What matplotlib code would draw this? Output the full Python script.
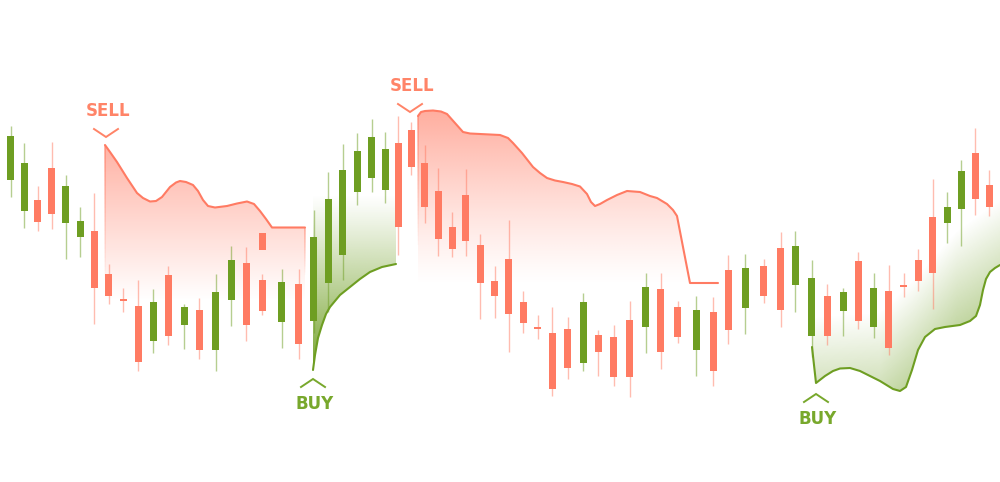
import matplotlib
matplotlib.use("Agg")
import matplotlib.pyplot as plt
import numpy as np
from matplotlib.patches import Polygon
from matplotlib.collections import LineCollection
from matplotlib.colors import to_rgb

# --- candles: x position on the 1000 px canvas, OHLC in price units ---
cx = [10.7, 24, 37.7, 51.7, 65.7, 80, 94.3, 108.7, 123.3, 138, 153, 168.3,
      184, 199.3, 215.7, 231.3, 246.3, 262, 262, 281.7, 298.7, 313.7, 328,
      342.7, 357.3, 371.7, 385.3, 398, 411.3, 424.5, 438.3, 452.3, 465.7,
      480.3, 494.7, 508.7, 523, 537.7, 552.3, 567.7, 583, 598.3, 613.7,
      629.7, 645.7, 660.7, 677.7, 696, 713, 728.3, 745.3, 763.7, 780.7,
      795.3, 811.7, 827.3, 843, 858.3, 873.7, 888.7, 903.7, 918.3, 932.7,
      947, 961.3, 975.3, 989.3]
opens = [302, 271, 282, 314, 259, 245, 251, 208, 183, 176, 141, 207,
         157, 172, 132, 182, 219, 249, 202, 160, 198, 161, 199,
         227, 290, 304, 292, 339, 352, 319, 291, 255, 287,
         237, 201, 223, 180, 155, 149, 153, 119, 147, 145,
         162, 155, 193, 175, 132, 170, 212, 174, 216, 234,
         197, 146, 186, 171, 221, 155, 191, 197, 222, 265,
         259, 273, 329, 297]
highs = [356, 339, 296, 340, 307, 275, 289, 218, 194, 202, 193, 216,
         178, 184, 208, 236, 235, 249, 208, 213, 213, 272, 310,
         338, 349, 363, 350, 366, 360, 337, 314, 270, 313,
         248, 216, 262, 191, 167, 175, 165, 189, 152, 157,
         181, 209, 209, 181, 186, 185, 227, 228, 223, 250,
         251, 222, 198, 194, 230, 209, 217, 209, 233, 303,
         290, 322, 354, 312]
lows = [285, 254, 251, 253, 223, 225, 158, 178, 170, 111, 129, 137,
        133, 123, 111, 156, 141, 232, 167, 134, 123, 149, 170,
        202, 277, 290, 279, 227, 307, 259, 226, 225, 226,
        163, 164, 130, 149, 143, 86, 103, 111, 106, 96,
        85, 129, 113, 139, 106, 96, 138, 148, 179, 155,
        170, 125, 137, 146, 153, 144, 127, 185, 191, 173,
        239, 236, 267, 266]
closes = [346, 319, 260, 268, 296, 261, 194, 186, 181, 120, 180, 146,
          175, 132, 190, 222, 157, 232, 171, 200, 138, 245, 283,
          312, 331, 345, 333, 255, 315, 275, 243, 233, 241,
          199, 186, 168, 159, 153, 93, 114, 180, 130, 105,
          105, 195, 130, 145, 172, 111, 152, 214, 186, 172,
          236, 204, 146, 190, 161, 194, 134, 195, 201, 209,
          275, 311, 283, 275]

# --- SELL zones (upper envelope) ---
sell1_x = [105, 110, 117, 127, 137, 143, 150, 156, 162, 170, 176, 180, 186,
           193, 198, 203, 208, 215, 227, 237, 247, 254, 260, 266, 272, 305]
sell1_p = [337, 330, 320, 304, 289, 284, 280.5, 281, 285, 295, 299.5, 301,
           300, 297, 291, 282, 276, 274.5, 276, 278.5, 280.5, 278, 271, 263,
           254.5, 254.5]
sell2_x = [418, 421, 425, 433, 441, 447, 455, 463, 470, 480, 500, 508, 513,
           522, 533, 540, 547, 555, 563, 572, 580, 587, 591, 595, 600, 607,
           617, 627, 640, 650, 657, 667, 673, 677, 683, 690, 718]
sell2_p = [366, 370, 371, 371.5, 370.5, 368, 359, 350, 348.5, 348, 347, 344,
           339, 329, 315, 309, 304, 301.5, 300, 298, 295.5, 288, 280, 276,
           278, 282, 287, 291, 290, 286, 284, 278, 272, 266, 235, 199, 199]

# --- BUY zones (lower envelope) ---
buy1_x = [313, 315, 318, 322, 326, 330, 340, 350, 360, 370, 382, 396]
buy1_p = [112, 127, 144, 157, 168, 175, 187, 195, 203, 210, 215, 218]
buy2_x = [812, 816, 825, 833, 840, 850, 860, 870, 880, 893, 900, 906, 912,
          918, 925, 935, 945, 960, 970, 976, 980, 983, 986, 990, 995, 1000]
buy2_p = [135, 99, 106, 111, 113.5, 114, 111, 106, 101, 93, 91, 95, 112,
          132, 145, 153, 155, 157, 161, 166, 177, 192, 203, 210, 214, 217]
buy2_top_x = [812, 880, 913, 957, 1000]
buy2_top_p = [165, 170, 202, 252, 282]

# --- signal markers ---
signal_labels = ["SELL", "BUY", "SELL", "BUY"]
signal_x = [106, 313, 410, 816]
signal_p = [345, 103, 370, 88]

RED = "#FF7B63"
GREEN = "#6E9E22"
RED_TXT = "#FF8468"
GREEN_TXT = "#78A82C"


def gradient_fill(ax, px, py, color, alpha_fn, zorder=1):
    poly = Polygon(np.column_stack([px, py]), closed=True,
                   facecolor="none", edgecolor="none")
    ax.add_patch(poly)
    x0, x1 = min(px), max(px)
    y0, y1 = min(py), max(py)
    gx, gy = np.meshgrid(np.linspace(x0, x1, 400), np.linspace(y0, y1, 400))
    img = np.zeros(gx.shape + (4,))
    img[..., :3] = to_rgb(color)
    img[..., 3] = np.clip(alpha_fn(gx, gy), 0, 1)
    im = ax.imshow(img, extent=[x0, x1, y0, y1], origin="lower",
                   aspect="auto", zorder=zorder, interpolation="bilinear")
    im.set_clip_path(poly)


def fading_edge(ax, xv, p_top, p_bot, color, a0=0.7, n=30):
    ys = np.linspace(p_top, p_bot, n + 1)
    segs = [[(xv, ys[i]), (xv, ys[i + 1])] for i in range(n)]
    cols = [(*to_rgb(color), a0 * (1 - i / n)) for i in range(n)]
    ax.add_collection(LineCollection(segs, colors=cols, linewidths=1.1, zorder=2))


fig = plt.figure(figsize=(10, 4.82), dpi=100)
ax = fig.add_axes([0, 0, 1, 1])
ax.axis("off")

# sell zone 1
floor1 = 182
top1 = max(sell1_p)
gradient_fill(ax, sell1_x + [sell1_x[-1], sell1_x[0]], sell1_p + [floor1, floor1],
              RED, lambda gx, gy: 0.58 * (gy - floor1) / (top1 - floor1))
ax.plot(sell1_x, sell1_p, color=RED, lw=1.5, zorder=2,
        solid_capstyle="round", solid_joinstyle="round")
fading_edge(ax, sell1_x[0], sell1_p[0], floor1 + 20, RED)
fading_edge(ax, sell1_x[-1], sell1_p[-1], floor1 + 25, RED, a0=0.6)

# sell zone 2
floor2 = 197
top2 = max(sell2_p)
gradient_fill(ax, sell2_x + [sell2_x[-1], sell2_x[0]], sell2_p + [floor2, floor2],
              RED, lambda gx, gy: 0.62 * ((gy - floor2) / (top2 - floor2)) ** 1.2)
ax.plot(sell2_x, sell2_p, color=RED, lw=1.5, zorder=2,
        solid_capstyle="round", solid_joinstyle="round")
fading_edge(ax, sell2_x[0], sell2_p[0], floor2 + 40, RED)

# buy zone 1
ceil1 = 287
bot1 = min(buy1_p)
gradient_fill(ax, buy1_x + [buy1_x[-1], buy1_x[0]], buy1_p + [ceil1, ceil1],
              GREEN, lambda gx, gy: 0.95 * ((ceil1 - gy) / (ceil1 - bot1)) ** 1.1)
ax.plot(buy1_x, buy1_p, color=GREEN, lw=1.5, zorder=2,
        solid_capstyle="round", solid_joinstyle="round")

# buy zone 2
gradient_fill(ax, buy2_x + buy2_top_x[::-1], buy2_p + buy2_top_p[::-1], GREEN,
              lambda gx, gy: 0.30 * (np.interp(gx, buy2_top_x, buy2_top_p) - gy) / 70)
ax.plot(buy2_x, buy2_p, color=GREEN, lw=1.5, zorder=2,
        solid_capstyle="round", solid_joinstyle="round")

# candles
for x, o, h, l, c in zip(cx, opens, highs, lows, closes):
    col = GREEN if c > o else RED
    if h > l and not (h == max(o, c) and l == min(o, c)):
        ax.vlines(x, l, h, color=col, lw=1.0, alpha=0.5, zorder=3)
    height = max(abs(c - o), 2.5)
    ax.bar(x, height, width=7, bottom=min(o, c) if abs(c - o) >= 2.5 else (o + c) / 2 - 1.25,
           color=col, edgecolor="none", zorder=4)

# signal chevrons and labels
for lab, sx, sp in zip(signal_labels, signal_x, signal_p):
    if lab == "SELL":
        col, d, txt_off = RED_TXT, 8, 26
    else:
        col, d, txt_off = GREEN_TXT, -8, -25
    ax.plot([sx - 12, sx, sx + 12], [sp + d, sp, sp + d], color=col, lw=1.4,
            zorder=5, solid_joinstyle="miter")
    ax.text(sx + 2, sp + txt_off, lab, color=col, fontsize=12, fontweight="bold",
            family="DejaVu Sans", ha="center", va="center", zorder=5)

ax.set_xlim(0, 1000)
ax.set_ylim(0, 482)

fig.savefig("out.png", dpi=100, facecolor="white")
